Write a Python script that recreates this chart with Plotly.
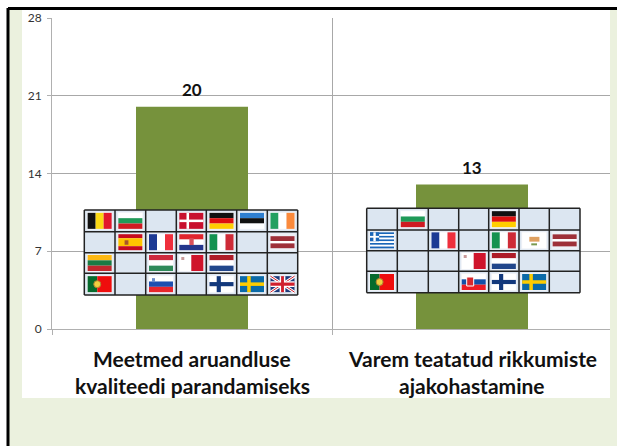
import plotly.graph_objects as go

W, H = 617, 446
values = [20, 13]
positions = [0, 1]
value_labels = ["20", "13"]
category_lines = [["Meetmed aruandluse", "kvaliteedi parandamiseks"],
                  ["Varem teatatud rikkumiste", "ajakohastamine"]]
y_ticks = [0, 7, 14, 21, 28]
grid_left = [["BE", "BG", "", "DK", "DE", "EE", "IE"],
             ["", "ES", "FR", "HR", "IT", "", "LV"],
             ["LT", "", "HU", "MT", "NL", "", ""],
             ["PT", "", "SI", "", "FI", "SE", "UK"]]
grid_right = [["", "BG", "", "", "DE", "", ""],
              ["GR", "", "FR", "", "IT", "CY", "LV"],
              ["", "", "", "MT", "NL", "", ""],
              ["PT", "", "", "SK", "FI", "SE", ""]]
left_xs = [84.3, 115, 145.7, 176.3, 206.3, 236.7, 267.3, 297.7]
left_ys = [210, 231.7, 252.7, 273.3, 295]
right_xs = [366.7, 397.3, 428.3, 458.7, 488.7, 519, 549.3, 580]
right_ys = [208.3, 230, 250.7, 271.3, 292.7]

shapes = []
def px(x): return x / W
def py(y): return 1 - y / H
def rect(x0, y0, x1, y1, fill, layer="above", line=None, lw=0):
    shapes.append(dict(type="rect", xref="paper", yref="paper", x0=px(x0), x1=px(x1), y0=py(y0), y1=py(y1),
                       fillcolor=fill, layer=layer,
                       line=dict(color=line or fill, width=lw)))
def seg(x0, y0, x1, y1, color, lw, layer="above"):
    shapes.append(dict(type="line", xref="paper", yref="paper", x0=px(x0), x1=px(x1), y0=py(y0), y1=py(y1),
                       layer=layer, line=dict(color=color, width=lw)))

def hstripes(b, cols):
    x, y, w, h = b
    for i, c in enumerate(cols):
        rect(x, y + h * i / len(cols), x + w, y + h * (i + 1) / len(cols), c)
def vstripes(b, cols):
    x, y, w, h = b
    for i, c in enumerate(cols):
        rect(x + w * i / len(cols), y, x + w * (i + 1) / len(cols), y + h, c)
def nordic(b, bg, cross, t=0.2):
    x, y, w, h = b
    rect(x, y, x + w, y + h, bg)
    rect(x + w * 0.3, y, x + w * 0.3 + h * t, y + h, cross)
    rect(x, y + h * (0.5 - t / 2), x + w, y + h * (0.5 + t / 2), cross)

def draw_flag(code, b):
    x, y, w, h = b
    rect(x - 1, y - 1, x + w + 1, y + h + 1, "#eef1f7")
    if code == "BE": vstripes(b, ["#111111", "#fbd914", "#e2182c"])
    elif code == "BG": hstripes(b, ["#ffffff", "#1f9a58", "#cf1a22"])
    elif code == "DK": nordic(b, "#c8102e", "#ffffff", 0.16)
    elif code == "DE": hstripes(b, ["#111111", "#dd1010", "#ffce00"])
    elif code == "EE": hstripes(b, ["#2f7fd0", "#111111", "#ffffff"])
    elif code == "IE": vstripes(b, ["#22a060", "#ffffff", "#fb8a3c"])
    elif code == "ES":
        hstripes((x, y, w, h / 4), ["#c60b1e"])
        hstripes((x, y + h / 4, w, h / 2), ["#ffc400"])
        hstripes((x, y + 3 * h / 4, w, h / 4), ["#c60b1e"])
        rect(x + w * 0.26, y + h * 0.38, x + w * 0.42, y + h * 0.66, "#a8552a")
    elif code == "FR": vstripes(b, ["#1d3a94", "#ffffff", "#ef2f3c"])
    elif code == "HR":
        hstripes(b, ["#e0242c", "#ffffff", "#24368c"])
        rect(x + w * 0.42, y + h * 0.25, x + w * 0.6, y + h * 0.68, "#d8505a")
    elif code == "IT": vstripes(b, ["#149250", "#ffffff", "#ce2b37"])
    elif code == "LV":
        hstripes((x, y + 2, w, h * 0.3), ["#9e3039"])
        hstripes((x, y + 2 + h * 0.3, w, h * 0.15), ["#ffffff"])
        hstripes((x, y + 2 + h * 0.45, w, h * 0.3), ["#9e3039"])
    elif code == "LT": hstripes(b, ["#fdb913", "#1a7a44", "#c1272d"])
    elif code == "HU": hstripes(b, ["#cd2a3e", "#ffffff", "#2f8a5a"])
    elif code == "MT":
        vstripes(b, ["#ffffff", "#cf142b"])
        rect(x + 2, y + 2, x + 5, y + 5, "#c99a9a")
    elif code == "NL": hstripes(b, ["#ae1c28", "#ffffff", "#21468b"])
    elif code == "PT":
        rect(x, y, x + w * 0.4, y + h, "#066a2c")
        rect(x + w * 0.4, y, x + w, y + h, "#ef0d0d")
        shapes.append(dict(type="circle", xref="paper", yref="paper", x0=px(x + w * 0.4 - 3.5), x1=px(x + w * 0.4 + 3.5),
                           y0=py(y + h / 2 + 3.5), y1=py(y + h / 2 - 3.5), fillcolor="#f0d040", layer="above",
                           line=dict(color="#b08030", width=1)))
    elif code == "SI":
        hstripes(b, ["#ffffff", "#1c4fb0", "#e8262c"])
        rect(x + 3, y + 2, x + 6, y + 6, "#6a8ccc")
    elif code == "SK":
        hstripes(b, ["#ffffff", "#1450a8", "#ee1c25"])
        rect(x + 5, y + 3, x + 12, y + 12, "#d8282e", line="#ffffff", lw=1)
    elif code == "FI": nordic(b, "#ffffff", "#12387c", 0.26)
    elif code == "SE": nordic(b, "#0b6aa8", "#fecc00", 0.22)
    elif code == "GR":
        for i in range(9):
            rect(x, y + h * i / 9, x + w, y + h * (i + 1) / 9, "#1a66b8" if i % 2 == 0 else "#ffffff")
        rect(x, y, x + w * 0.38, y + h * 5 / 9, "#1a66b8")
        rect(x + w * 0.14, y, x + w * 0.24, y + h * 5 / 9, "#ffffff")
        rect(x, y + h * 2 / 9, x + w * 0.38, y + h * 3 / 9, "#ffffff")
    elif code == "CY":
        rect(x, y, x + w, y + h, "#ffffff")
        rect(x + w * 0.3, y + h * 0.28, x + w * 0.72, y + h * 0.58, "#dfa060")
        seg(x + w * 0.38, y + h * 0.75, x + w * 0.62, y + h * 0.75, "#7a9a50", 2)
    elif code == "UK":
        rect(x, y, x + w, y + h, "#1d3a7c")
        seg(x, y, x + w, y + h, "#ffffff", 3); seg(x, y + h, x + w, y, "#ffffff", 3)
        seg(x, y, x + w, y + h, "#d0202e", 1); seg(x, y + h, x + w, y, "#d0202e", 1)
        rect(x + w * 0.38, y, x + w * 0.62, y + h, "#ffffff")
        rect(x, y + h * 0.32, x + w, y + h * 0.68, "#ffffff")
        rect(x + w * 0.44, y, x + w * 0.56, y + h, "#d0202e")
        rect(x, y + h * 0.4, x + w, y + h * 0.6, "#d0202e")

def draw_grid(grid, xs, ys):
    rect(xs[0], ys[0], xs[-1], ys[-1], "#dce6f1")
    for r, row in enumerate(grid):
        for c, code in enumerate(row):
            if code:
                cx, cy = (xs[c] + xs[c + 1]) / 2, (ys[r] + ys[r + 1]) / 2
                draw_flag(code, (cx - 12, cy - 8, 24, 16))
    for xv in xs:
        seg(xv, ys[0], xv, ys[-1], "#222222", 1.5)
    for yv in ys:
        seg(xs[0], yv, xs[-1], yv, "#222222", 1.5)

# backdrop
rect(8, 9, 617, 446, "#ebf1de", layer="below")
rect(22, 10, 610, 398, "#ffffff", layer="below")
seg(8, 8.5, 617, 8.5, "#000000", 3, layer="below")
seg(8, 8, 8, 446, "#000000", 3, layer="below")
rect(610, 10, 617, 398, "#ebf1de")
draw_grid(grid_left, left_xs, left_ys)
draw_grid(grid_right, right_xs, right_ys)

fig = go.Figure(go.Bar(x=positions, y=values, width=0.4, marker=dict(color="#76923c", line=dict(width=0)),
                       cliponaxis=False, hoverinfo="skip"))
annotations = []
for pos, val, label in zip(positions, values, value_labels):
    annotations.append(dict(xref="x", yref="y", x=pos, y=val, yshift=17, text=label, showarrow=False,
                            xanchor="center", yanchor="middle",
                            font=dict(family="Lato", size=17, color="#111111", weight="bold")))
centres = [192, 472]
for cx, lines in zip(centres, category_lines):
    for yy, t in zip([358, 385], lines):
        annotations.append(dict(xref="paper", yref="paper", x=px(cx), y=py(yy), text=t, showarrow=False,
                                xanchor="center", yanchor="middle",
                                font=dict(family="Lato", size=21, color="#111111", weight="bold")))
fig.update_layout(width=W, height=H, margin=dict(l=0, r=0, t=0, b=0, autoexpand=False), autosize=False,
                  paper_bgcolor="#ffffff", plot_bgcolor="rgba(0,0,0,0)", showlegend=False,
                  shapes=shapes, annotations=annotations,
                  xaxis=dict(domain=[px(52), px(612)], range=[-0.5, 1.5], tickvals=[-0.5, 0.5, 1.5],
                             ticktext=["", "", ""], ticks="outside", ticklen=5, tickcolor="#b0b0b0",
                             showgrid=True, gridcolor="#a8a8a8", gridwidth=1, showline=True,
                             linecolor="#b0b0b0", linewidth=1, zeroline=False),
                  yaxis=dict(domain=[py(329), py(18)], range=[0, 28], tickvals=y_ticks,
                             ticks="outside", ticklen=4, tickcolor="#b0b0b0", showgrid=True, ticklabelstandoff=3,
                             gridcolor="#a8a8a8", gridwidth=1, showline=True, linecolor="#b0b0b0", linewidth=1,
                             zeroline=False, tickfont=dict(family="Lato", size=12, color="#333333")))
fig.write_html("out.html", config={"displayModeBar": False},
               post_script="document.body.style.margin='0';document.documentElement.style.overflow='hidden';")
